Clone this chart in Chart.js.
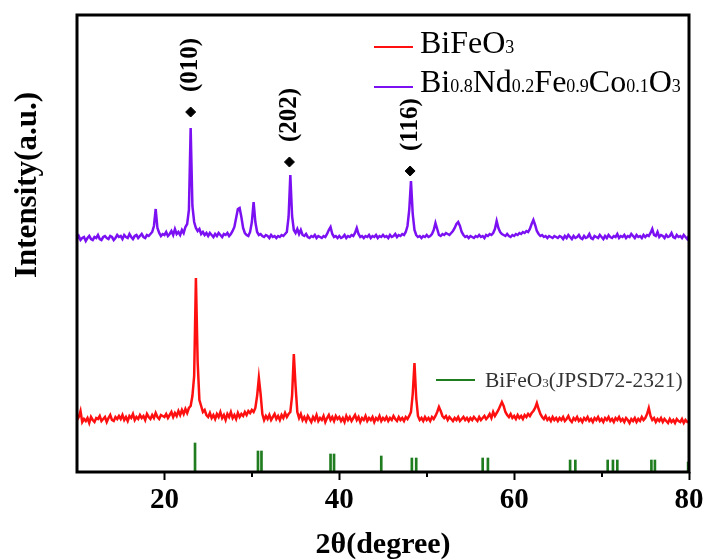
<!DOCTYPE html>
<html>
<head>
<meta charset="utf-8">
<script src="https://cdn.jsdelivr.net/npm/chart.js@4.4.1/dist/chart.umd.min.js"></script>
<style>
  html, body { margin: 0; padding: 0; background: #fff; }
  #wrap { width: 707px; height: 560px; }
</style>
</head>
<body>
<div id="wrap"><canvas id="xrd" width="707" height="560"></canvas></div>
<script>
// scan settings: 10-80 deg, 0.2 deg step
const scanStart = 10;
const scanStep = 0.2;

// BiFeO3 (red)
const bfoCounts = [
  52,55,61,50,53,51,54,49,55,52,50,54,53,56,51,53,55,50,54,57,52,51,55,53,56,
  53,57,52,55,51,56,54,58,52,55,53,57,54,56,52,58,55,53,57,54,59,55,53,57,56,
  55,58,54,57,60,55,59,56,61,57,62,58,63,59,64,66,76,96,194,110,72,66,60,62,57,
  55,59,54,57,53,58,55,60,54,57,52,58,55,60,54,57,53,59,55,58,56,60,57,61,59,
  62,60,64,76,94,78,58,52,56,53,57,52,55,58,53,56,52,57,54,59,55,58,60,76,118,
  86,60,54,58,52,55,51,56,53,50,55,52,57,51,54,52,56,50,54,57,52,55,51,56,53,
  55,51,54,50,56,52,55,51,54,57,52,55,50,54,52,56,51,54,52,55,50,54,52,56,51,
  54,52,55,51,54,52,56,53,51,55,52,54,51,55,53,56,60,78,109,74,56,52,54,51,55,
  52,54,51,55,53,56,60,65,61,56,54,56,52,55,53,51,54,52,55,51,53,55,52,54,51,
  54,52,55,53,51,55,52,54,56,53,55,58,54,60,56,59,62,66,70,66,60,57,55,58,54,
  56,53,57,54,56,53,57,55,58,56,59,61,64,69,63,58,55,53,56,52,54,51,55,52,54,
  51,54,52,55,51,53,56,52,50,54,52,55,51,53,50,54,52,55,51,53,50,54,52,55,51,
  53,50,54,52,55,51,53,50,54,52,55,51,53,50,54,52,49,53,51,54,50,53,51,55,52,
  54,58,64,56,52,54,50,53,51,54,50,53,51,49,53,50,52,49,53,51,50,53,49,52,50,
  51
];

// Bi0.8Nd0.2Fe0.9Co0.1O3 (violet)
const bndfcoCounts = [
  233,236,232,234,235,231,234,236,233,232,235,234,237,233,232,235,236,234,233,236,235,232,234,237,235,
  236,233,237,235,234,238,235,233,236,237,234,236,238,235,234,237,236,238,240,246,263,244,239,236,238,
  237,240,236,238,241,237,243,238,240,237,242,239,245,248,262,344,266,250,244,241,243,238,240,237,239,
  236,239,237,235,238,236,239,237,235,238,237,239,236,238,241,245,254,263,264,255,244,239,237,236,240,
  250,270,250,240,237,238,236,235,237,236,234,237,235,236,234,236,235,237,236,238,240,255,297,256,242,
  239,243,238,242,237,236,238,235,234,236,235,237,234,236,235,234,236,235,238,242,245,238,235,236,234,
  236,234,235,237,234,236,235,237,236,239,244,238,235,236,234,236,235,237,234,236,235,237,234,236,235,
  237,235,236,234,237,235,236,238,235,237,236,238,237,240,246,262,291,258,242,237,235,236,234,236,235,
  237,235,236,238,242,249,243,237,236,238,237,239,238,237,239,241,244,248,250,246,240,237,235,236,234,
  236,235,234,236,235,237,235,236,234,237,236,238,237,239,243,251,244,240,238,237,236,238,236,235,237,
  236,238,237,239,238,240,239,241,240,243,248,252,247,241,238,236,237,235,236,234,236,235,234,236,235,
  234,236,235,233,236,234,237,235,233,236,234,235,237,234,233,236,234,235,238,234,233,236,235,234,237,
  235,233,236,234,237,235,234,236,235,238,234,236,235,237,234,236,235,238,236,234,237,235,236,234,237,
  235,237,236,239,243,237,236,240,235,237,236,234,237,235,236,239,235,234,237,235,236,234,237,235,233,
  236
];

// standard card lines
const refAngles = [23.5, 30.7, 31.1, 39.0, 39.4, 44.8, 48.3, 48.8, 56.4, 57.0, 66.4, 67.0, 70.7, 71.3, 71.8, 75.7, 76.1, 79.9];
const refHeights = [29, 21, 21, 18, 18, 16, 14, 14, 14, 14, 12, 12, 12, 12, 12, 12, 12, 10];

// indexed peaks
const hklAngles = [23.0, 34.3, 48.1];
const hklHeights = [360, 310, 301];
const hklLabels = ['(010)', '(202)', '(116)'];

const xMajorTicks = [20, 40, 60, 80];
const xMinorTicks = [30, 50, 70];

const SERIF = '"Liberation Serif", "Times New Roman", serif';
const RED = '#ff1010';
const VIOLET = '#7b10f2';
const GREEN = '#1f7d1f';

const toPoints = (counts) => counts.map((y, i) => ({ x: +(scanStart + i * scanStep).toFixed(1), y }));

// split "BiFeO3(JPSD..)" into normal / subscript runs (only before the bracket)
function formulaParts(text) {
  const cut = text.indexOf('(');
  const head = cut < 0 ? text : text.slice(0, cut);
  const tail = cut < 0 ? '' : text.slice(cut);
  const parts = head.split(/(\d+(?:\.\d+)?)/).filter(Boolean).map((s) => ({ s, sub: /^\d/.test(s) }));
  if (tail) parts.push({ s: tail, sub: false });
  return parts;
}

function drawFormula(ctx, text, x, y, size, subSize) {
  for (const p of formulaParts(text)) {
    ctx.font = `${p.sub ? subSize : size}px ${SERIF}`;
    ctx.fillText(p.s, x, y);
    x += ctx.measureText(p.s).width;
  }
}

const decor = {
  id: 'decor',
  afterDraw(chart) {
    const { ctx, chartArea: a, scales: { x } } = chart;
    ctx.save();
    ctx.strokeStyle = '#000';
    ctx.lineWidth = 3;
    ctx.strokeRect(a.left, a.top, a.right - a.left, a.bottom - a.top);

    // minor ticks
    ctx.lineWidth = 2;
    xMinorTicks.forEach((v) => {
      const px = Math.round(x.getPixelForValue(v));
      ctx.beginPath();
      ctx.moveTo(px, a.bottom);
      ctx.lineTo(px, a.bottom + 5);
      ctx.stroke();
    });

    // hkl labels above the diamonds
    ctx.fillStyle = '#000';
    const marks = chart.getDatasetMeta(3).data;
    marks.forEach((el, i) => {
      ctx.save();
      ctx.translate(el.x, el.y - 20);
      ctx.rotate(-Math.PI / 2);
      ctx.font = `bold 25px ${SERIF}`;
      ctx.textAlign = 'left';
      ctx.textBaseline = 'middle';
      ctx.fillText(hklLabels[i], 0, 0);
      ctx.restore();
    });

    // y title
    ctx.save();
    ctx.translate(a.left - 49, a.top + 170);
    ctx.rotate(-Math.PI / 2);
    ctx.font = `bold 31px ${SERIF}`;
    ctx.textAlign = 'center';
    ctx.textBaseline = 'middle';
    ctx.fillText('Intensity(a.u.)', 0, 0);
    ctx.restore();

    // legend
    const ds = chart.data.datasets;
    const rows = [
      { d: ds[0], lx: a.left + 297, ly: a.top + 32, gap: 46, tb: a.top + 38, size: 32, sub: 18, color: '#000' },
      { d: ds[1], lx: a.left + 297, ly: a.top + 72, gap: 46, tb: a.top + 77, size: 32, sub: 18, color: '#000' },
      { d: ds[2], lx: a.left + 359, ly: a.top + 365, gap: 49, tb: a.top + 372, size: 21.5, sub: 13, color: '#333' },
    ];
    ctx.textAlign = 'left';
    ctx.textBaseline = 'alphabetic';
    rows.forEach((r) => {
      ctx.strokeStyle = r.d.borderColor;
      ctx.lineWidth = 2;
      ctx.beginPath();
      ctx.moveTo(r.lx, r.ly);
      ctx.lineTo(r.lx + 39, r.ly);
      ctx.stroke();
      ctx.fillStyle = r.color;
      drawFormula(ctx, r.d.label, r.lx + r.gap, r.tb, r.size, r.sub);
    });
    ctx.restore();
  },
};

new Chart(document.getElementById('xrd'), {
  type: 'line',
  data: {
    datasets: [
      { label: 'BiFeO3', data: toPoints(bfoCounts), borderColor: RED, borderWidth: 2.5, pointRadius: 0, tension: 0 },
      { label: 'Bi0.8Nd0.2Fe0.9Co0.1O3', data: toPoints(bndfcoCounts), borderColor: VIOLET, borderWidth: 2.5, pointRadius: 0, tension: 0 },
      {
        type: 'bar',
        label: 'BiFeO3(JPSD72-2321)',
        data: refAngles.map((a, i) => ({ x: a, y: refHeights[i] })),
        backgroundColor: GREEN,
        borderColor: GREEN,
        barThickness: 2,
        grouped: false,
      },
      {
        type: 'scatter',
        label: 'hkl',
        data: hklAngles.map((a, i) => ({ x: a, y: hklHeights[i] })),
        pointStyle: 'rectRot',
        pointRadius: 5,
        borderWidth: 1,
        backgroundColor: '#000',
        borderColor: '#000',
      },
    ],
  },
  options: {
    responsive: false,
    animation: false,
    layout: { padding: { top: 15, right: 18, left: 0, bottom: 0 } },
    plugins: { legend: { display: false }, tooltip: { enabled: false } },
    scales: {
      x: {
        type: 'linear',
        min: 10,
        max: 80,
        offset: false,
        afterBuildTicks: (s) => { s.ticks = xMajorTicks.map((v) => ({ value: v })); },
        afterFit: (s) => { s.height = 88; },
        grid: {
          offset: false, // bar dataset would shift ticks half a step otherwise
          drawOnChartArea: false,
          drawTicks: true,
          tickLength: 8,
          tickWidth: 2,
          tickColor: '#000',
        },
        border: { display: false },
        ticks: {
          color: '#000',
          padding: 3,
          maxRotation: 0,
          autoSkip: false,
          font: { family: SERIF, size: 29, weight: 'bold' },
        },
        title: {
          display: true,
          text: '2θ(degree)',
          color: '#000',
          padding: 0,
          font: { family: SERIF, size: 30, weight: 'bold', lineHeight: 1 },
        },
      },
      y: {
        min: 0,
        max: 457,
        afterFit: (s) => { s.width = 77; },
        grid: { display: false },
        border: { display: false },
        ticks: { display: false },
      },
    },
  },
  plugins: [decor],
});
</script>
</body>
</html>
